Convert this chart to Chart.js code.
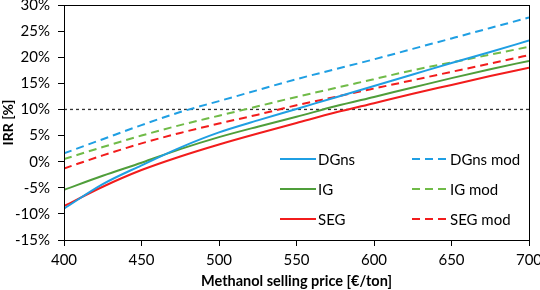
<!DOCTYPE html>
<html>
<head>
<meta charset="utf-8">
<script src="https://cdn.jsdelivr.net/npm/chart.js@4/dist/chart.umd.min.js"></script>
<style>
  html, body { margin: 0; padding: 0; background: #fff; }
  #wrap { position: relative; width: 540px; height: 290px; }
</style>
</head>
<body>
<div id="wrap"><canvas id="c" width="540" height="290"></canvas></div>
<script>
// Methanol selling price [€/ton]
const prices = [400, 425, 450, 475, 500, 525, 550, 575, 600, 625, 650, 675, 700];
// IRR [%]
const dgns    = [-9.0, -4.3, -0.7, 2.7, 5.6, 7.9, 10.1, 12.3, 14.5, 16.7, 18.9, 21.0, 23.2];
const ig      = [-5.4, -2.7, -0.2, 2.4, 4.7, 6.7, 8.6, 10.6, 12.4, 14.2, 16.0, 17.7, 19.3];
const seg     = [-8.5, -4.8, -1.6, 1.0, 3.3, 5.4, 7.4, 9.4, 11.2, 13.0, 14.7, 16.4, 18.0];
const dgnsMod = [1.6, 4.3, 7.0, 9.5, 11.6, 13.7, 15.8, 17.7, 19.6, 21.6, 23.6, 25.6, 27.6];
const igMod   = [0.5, 2.8, 5.0, 7.0, 8.8, 10.6, 12.4, 14.1, 15.8, 17.5, 19.0, 20.5, 22.0];
const segMod  = [-1.3, 1.2, 3.5, 5.5, 7.3, 9.0, 10.8, 12.4, 14.0, 15.6, 17.2, 18.8, 20.4];
// 10% reference line
const thresholdX = [400, 700];
const thresholdY = [10, 10];
const yTicks = [-15, -10, -5, 0, 5, 10, 15, 20, 25, 30];
const xTicks = [400, 450, 500, 550, 600, 650, 700];

const FONT = 'Lato, "Open Sans", sans-serif';
const pts = (xs, ys) => xs.map((x, i) => ({ x: x, y: ys[i] }));

const BLUE = '#1f9fe3', GREEN = '#4f9e3a', GREEN_L = '#70bb48', RED = '#f21c1c';

function ds(label, data, color, dashed) {
  return {
    label: label,
    data: pts(prices, data),
    borderColor: color,
    backgroundColor: color,
    borderWidth: 2,
    borderDash: dashed ? [8, 5] : [],
    pointRadius: 0,
    tension: 0.4,
    cubicInterpolationMode: 'monotone',
    inLegend: true
  };
}

const datasets = [
  ds('DGns', dgns, BLUE, false),
  ds('IG', ig, GREEN, false),
  ds('SEG', seg, RED, false),
  ds('DGns mod', dgnsMod, BLUE, true),
  ds('IG mod', igMod, GREEN_L, true),
  ds('SEG mod', segMod, RED, true),
  {
    label: '10%',
    data: pts(thresholdX, thresholdY),
    borderColor: '#333',
    borderWidth: 1.3,
    borderDash: [3, 3],
    pointRadius: 0,
    inLegend: false
  }
];

const boxPlugin = {
  id: 'boxAndLegend',
  afterDraw(chart) {
    const ctx = chart.ctx, a = chart.chartArea;
    ctx.save();
    ctx.strokeStyle = '#000';
    ctx.lineWidth = 1;
    ctx.setLineDash([]);
    ctx.strokeRect(Math.round(a.left) + 0.5, Math.round(a.top) + 0.5,
                   Math.round(a.right - a.left), Math.round(a.bottom - a.top));
    // legend in two columns inside the plot area
    const items = chart.data.datasets.filter(d => d.inLegend);
    const cols = [280, 412];
    const rows = [159, 189, 219];
    ctx.font = '15px ' + FONT;
    ctx.fillStyle = '#000';
    ctx.textBaseline = 'middle';
    items.forEach((d, i) => {
      const col = Math.floor(i / 3), row = i % 3;
      const x = cols[col], y = rows[row];
      ctx.strokeStyle = d.borderColor;
      ctx.lineWidth = 2;
      ctx.setLineDash(d.borderDash.length ? [8, 5] : []);
      ctx.beginPath();
      ctx.moveTo(x, y);
      ctx.lineTo(x + 36, y);
      ctx.stroke();
      ctx.setLineDash([]);
      ctx.fillStyle = '#000';
      ctx.fillText(d.label, x + 38, y + 1);
    });
    ctx.restore();
  }
};

new Chart(document.getElementById('c'), {
  type: 'line',
  data: { datasets: datasets },
  plugins: [boxPlugin],
  options: {
    responsive: false,
    animation: false,
    devicePixelRatio: 1,
    layout: { padding: { top: 5, right: 11, left: 0, bottom: 0 } },
    plugins: { legend: { display: false }, tooltip: { enabled: false } },
    scales: {
      x: {
        type: 'linear',
        min: 400, max: 700,
        afterBuildTicks: s => { s.ticks = xTicks.map(v => ({ value: v })); },
        afterFit: s => { s.height = 50; s.paddingLeft = 0; s.paddingRight = 0; },
        grid: { display: true, drawOnChartArea: false, drawTicks: true, tickLength: 6, color: '#000' },
        border: { display: true, color: '#000', width: 1 },
        ticks: { color: '#000', font: { family: FONT, size: 15 }, padding: 5, maxRotation: 0 },
        title: { display: true, text: 'Methanol selling price [€/ton]', color: '#000',
                 font: { family: FONT, size: 14.5, weight: 'bold' }, padding: { top: 3, bottom: 0 } }
      },
      y: {
        type: 'linear',
        min: -15, max: 30,
        afterBuildTicks: s => { s.ticks = yTicks.map(v => ({ value: v })); },
        afterFit: s => { s.width = 64; s.paddingTop = 0; s.paddingBottom = 0; },
        grid: { display: true, drawOnChartArea: false, drawTicks: true, tickLength: 6, color: '#000' },
        border: { display: true, color: '#000', width: 1 },
        ticks: { color: '#000', font: { family: FONT, size: 15 }, padding: 8, callback: v => v + '%' },
        title: { display: true, text: 'IRR [%]', color: '#000',
                 font: { family: FONT, size: 14, weight: 'bold' }, padding: { top: 0, bottom: 0 } }
      }
    }
  }
});
</script>
</body>
</html>
